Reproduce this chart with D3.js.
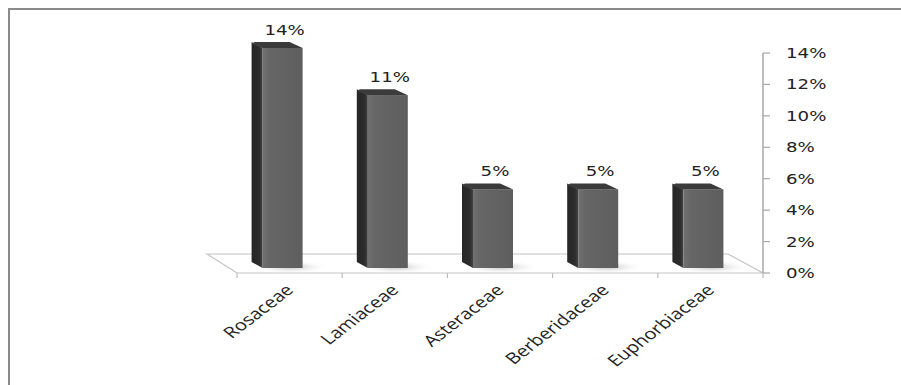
<!DOCTYPE html>
<html>
<head>
<meta charset="utf-8">
<script src="https://cdn.jsdelivr.net/npm/d3@7"></script>
<style>
  body { margin: 0; background: #fff; }
  svg { display: block; }
</style>
</head>
<body>
<div id="chart"></div>
<script>
'use strict';

// chart data
var families = ["Rosaceae", "Lamiaceae", "Asteraceae", "Berberidaceae", "Euphorbiaceae"];
var shares = [0.14, 0.11, 0.05, 0.05, 0.05];
var shareLabels = ["14%", "11%", "5%", "5%", "5%"];
var axisTicks = [0, 0.02, 0.04, 0.06, 0.08, 0.10, 0.12, 0.14];

var width = 901, height = 385;
var stretch = 1.3; // the source picture is stretched sideways

var svg = d3.select("#chart").append("svg")
  .attr("width", width)
  .attr("height", height);

var defs = svg.append("defs");

var frontGrad = defs.append("linearGradient").attr("id", "front");
frontGrad.append("stop").attr("offset", "0%").attr("stop-color", "#707070");
frontGrad.append("stop").attr("offset", "18%").attr("stop-color", "#666");
frontGrad.append("stop").attr("offset", "100%").attr("stop-color", "#5e5e5e");

var sideGrad = defs.append("linearGradient").attr("id", "side");
sideGrad.append("stop").attr("offset", "0%").attr("stop-color", "#262626");
sideGrad.append("stop").attr("offset", "70%").attr("stop-color", "#2c2c2c");
sideGrad.append("stop").attr("offset", "100%").attr("stop-color", "#444");

var shadowGrad = defs.append("radialGradient").attr("id", "shadow");
shadowGrad.append("stop").attr("offset", "0%").attr("stop-color", "#b5b5b5").attr("stop-opacity", 0.9);
shadowGrad.append("stop").attr("offset", "100%").attr("stop-color", "#fff").attr("stop-opacity", 0);

// frame (top and left edges only visible)
svg.append("path")
  .attr("d", "M9,385V9H901")
  .attr("fill", "none")
  .attr("stroke", "#8a8a8a")
  .attr("stroke-width", 2);

var y = d3.scaleLinear().domain([0, 0.14]).range([273, 53]);
var x = d3.scaleBand().domain(families).range([237, 763]).padding(0);

var lift = 5;         // bar front sits a little above the front edge of the floor
var barW = 40;
var depth = { dx: -11, dy: -6 };

// floor
svg.append("polygon")
  .attr("points", [[207, 254], [728, 254], [763, 273], [237, 273]].join(" "))
  .attr("fill", "#fff")
  .attr("stroke", "#c4c4c4")
  .attr("stroke-width", 1.2);

// category ticks
var edges = families.map(function(f) { return x(f); }).concat([x.range()[1]]);
svg.selectAll(".ctick")
  .data(edges)
  .enter().append("line")
  .attr("x1", function(d) { return d; })
  .attr("x2", function(d) { return d; })
  .attr("y1", y(0))
  .attr("y2", y(0) + 5)
  .attr("stroke", "#bdbdbd")
  .attr("stroke-width", 1.2);

// value axis on the right
var axis = svg.append("g");
axis.append("line")
  .attr("x1", 763).attr("x2", 763)
  .attr("y1", y(0.14)).attr("y2", y(0))
  .attr("stroke", "#a8a8a8")
  .attr("stroke-width", 1.5);

axis.selectAll(".vtick")
  .data(axisTicks)
  .enter().append("line")
  .attr("x1", 763).attr("x2", 770)
  .attr("y1", function(d) { return y(d); })
  .attr("y2", function(d) { return y(d); })
  .attr("stroke", "#a8a8a8")
  .attr("stroke-width", 1.2);

axis.selectAll(".vlabel")
  .data(axisTicks)
  .enter().append("text")
  .attr("transform", function(d) {
    return "translate(786," + (y(d) + 5) + ") scale(" + stretch + ",1)";
  })
  .attr("font-family", "DejaVu Sans, Verdana, sans-serif")
  .attr("font-size", 14)
  .attr("fill", "#222")
  .text(function(d) { return d3.format(".0%")(d); });

// bars
var bars = svg.selectAll(".bar")
  .data(families.map(function(f, i) { return { name: f, value: shares[i], label: shareLabels[i] }; }))
  .enter().append("g")
  .attr("class", "bar");

function x0(d) { return x(d.name) + x.bandwidth() / 2 - 27; }
function yb() { return y(0) - lift; }
function yt(d) { return y(d.value) - lift; }

bars.append("ellipse")
  .attr("cx", function(d) { return x0(d) + barW / 2 + 8; })
  .attr("cy", function() { return yb() - 1; })
  .attr("rx", 38)
  .attr("ry", 7)
  .attr("fill", "url(#shadow)");

bars.append("polygon")
  .attr("points", function(d) {
    var a = x0(d);
    return [[a, yt(d)], [a, yb()], [a + depth.dx, yb() + depth.dy], [a + depth.dx, yt(d) + depth.dy]].join(" ");
  })
  .attr("fill", "url(#side)");

bars.append("rect")
  .attr("x", x0)
  .attr("y", yt)
  .attr("width", barW)
  .attr("height", function(d) { return yb() - yt(d); })
  .attr("fill", "url(#front)");

bars.append("polygon")
  .attr("points", function(d) {
    var a = x0(d), t = yt(d);
    return [[a, t], [a + barW, t], [a + barW - 13, t + depth.dy], [a + depth.dx + 3, t + depth.dy], [a + depth.dx, t + depth.dy + 2]].join(" ");
  })
  .attr("fill", "#3b3b3b");

bars.append("text")
  .attr("transform", function(d) {
    return "translate(" + (x0(d) + barW / 2 + 2) + "," + (yt(d) - 13) + ") scale(" + stretch + ",1)";
  })
  .attr("text-anchor", "middle")
  .attr("font-family", "DejaVu Sans, Verdana, sans-serif")
  .attr("font-size", 14)
  .attr("fill", "#222")
  .text(function(d) { return d.label; });

// category labels, rotated
svg.selectAll(".clabel")
  .data(families)
  .enter().append("text")
  .attr("transform", function(d) {
    return "translate(" + (x(d) + x.bandwidth() / 2 + 5) + ",291) scale(" + stretch + ",1) rotate(-45)";
  })
  .attr("text-anchor", "end")
  .attr("font-family", "Open Sans, Liberation Sans, sans-serif")
  .attr("font-size", 15.5)
  .attr("fill", "#222")
  .text(function(d) { return d; });
</script>
</body>
</html>
